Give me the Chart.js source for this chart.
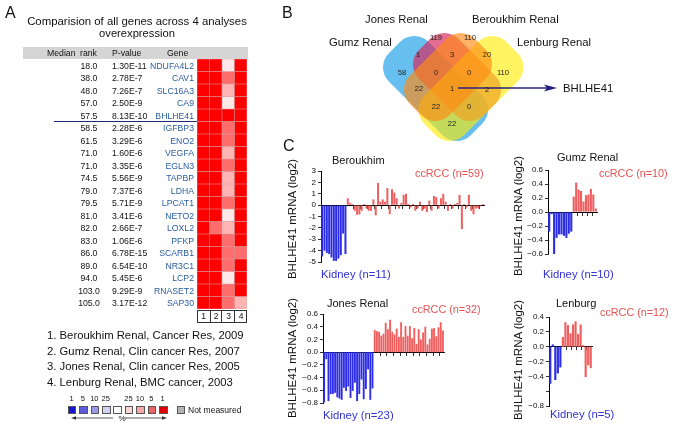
<!DOCTYPE html>
<html>
<head>
<meta charset="utf-8">
<script src="https://cdn.jsdelivr.net/npm/chart.js@4.4.1/dist/chart.umd.min.js"></script>
<style>
  body { margin: 0; width: 677px; height: 425px; overflow: hidden; background: #fff; position: relative;
         font-family: "Liberation Sans", Arial, sans-serif; color: #111; }
  canvas { position: absolute; }
  .t { position: absolute; white-space: nowrap; line-height: 1; }
  .box { position: absolute; }
</style>
</head>
<body>
<canvas id="heat"></canvas>
<canvas id="venn"></canvas>
<canvas id="ber"></canvas>
<canvas id="gumz"></canvas>
<canvas id="jones"></canvas>
<canvas id="len"></canvas>
<svg id="pctArrow" width="677" height="425" style="position:absolute;left:0;top:0;pointer-events:none"></svg>
<script>
// ---- panel A data ----
const genes = ['NDUFA4L2', 'CAV1', 'SLC16A3', 'CA9', 'BHLHE41', 'IGFBP3', 'ENO2', 'VEGFA', 'EGLN3', 'TAPBP',
  'LDHA', 'LPCAT1', 'NETO2', 'LOXL2', 'PFKP', 'SCARB1', 'NR3C1', 'LCP2', 'RNASET2', 'SAP30'];
const medianRanks = ['18.0', '38.0', '48.0', '57.0', '57.5', '58.5', '61.5', '71.0', '71.0', '74.5',
  '79.0', '79.5', '81.0', '82.0', '83.0', '86.0', '89.0', '94.0', '103.0', '105.0'];
const pValues = ['1.30E-11', '2.78E-7', '7.26E-7', '2.50E-9', '8.13E-10', '2.28E-6', '3.29E-6', '1.60E-6', '3.35E-6', '5.56E-9',
  '7.37E-6', '5.71E-9', '3.41E-6', '2.66E-7', '1.06E-6', '6.78E-15', '6.54E-10', '5.45E-6', '9.29E-9', '3.17E-12'];
const studyIds = ['1', '2', '3', '4'];
// top-percent bin of each gene in each analysis (1, 5, 10, 25)
const study1Pct = [1, 1, 1, 1, 1, 1, 1, 1, 1, 1, 1, 1, 1, 1, 1, 1, 1, 1, 1, 1];
const study2Pct = [1, 1, 1, 1, 1, 1, 1, 1, 1, 1, 1, 1, 1, 5, 1, 1, 1, 1, 1, 1];
const study3Pct = [25, 5, 10, 25, 1, 5, 5, 10, 5, 10, 10, 5, 25, 10, 5, 5, 5, 25, 5, 5];
const study4Pct = [1, 1, 1, 1, 1, 1, 1, 1, 1, 1, 1, 1, 1, 1, 1, 5, 1, 1, 1, 10];
const studyNames = ['Beroukhim Renal, Cancer Res, 2009', 'Gumz Renal, Clin cancer Res, 2007',
  'Jones Renal, Clin cancer Res, 2005', 'Lenburg Renal, BMC cancer, 2003'];
const legendBins = ['1', '5', '10', '25', '', '25', '10', '5', '1'];

// ---- panel B data ----
const vennSets = ['Gumz Renal', 'Jones Renal', 'Lenburg Renal', 'Beroukhim Renal'];
const vennCounts = [119, 110, 1, 3, 20, 58, 0, 0, 110, 22, 1, 2, 22, 0, 22];

// ---- panel C data (log2 BHLHE41 mRNA per sample) ----
const berKidney = [-4.5, -4.0, -4.2, -4.3, -4.6, -4.9, -4.9, -4.7, -4.4, -2.5, -4.3];
const berCcrcc = [0.6, 0.2, 0.1, -0.5, -0.85, -0.8, -0.5, 0.1, -0.3, -0.5, -0.5, 0.5, -0.9, 1.95, 0.3, 0.5, 0.3, 1.5, -0.8, 1.4,
  1.1, 0.6, -0.3, 0.2, 0.9, 1.0, 0.1, -0.2, 0.1, -0.5, -0.3, 0.3, -0.5, -0.3, -0.6, 0.4, -0.5, 0.8, 0.7, -0.3,
  0.6, 1.0, 0.3, -0.5, 0.1, -0.3, 0.1, 0.2, 0.9, -2.1, 0.1, -0.2, 0.9, -0.5, -0.8, -0.3, -0.3, -0.1, 0.1];
const gumzKidney = [-0.28, -0.03, -0.6, -0.37, -0.32, -0.32, -0.34, -0.37, -0.31, -0.28];
const gumzCcrcc = [0.22, 0.42, 0.32, 0.3, 0.15, 0.24, 0.25, 0.33, 0.25, 0.05];
const jonesKidney = [-0.79, -0.11, -0.77, -0.66, -0.66, -0.64, -0.71, -0.73, -0.75, -0.56, -0.61, -0.54,
  -0.72, -0.61, -0.48, -0.77, -0.66, -0.43, -0.74, -0.58, -0.27, -0.75, -0.57];
const jonesCcrcc = [0.35, 0.33, 0.32, 0.26, 0.29, 0.46, 0.36, 0.51, 0.32, 0.28, 0.37, 0.24, 0.47, 0.24, 0.41, 0.26,
  0.41, 0.22, 0.38, 0.13, 0.36, 0.2, 0.31, 0.4, 0.12, 0.21, 0.37, 0.38, 0.25, 0.39, 0.47, 0.34];
const lenKidney = [-0.5, 0.03, -0.45, -0.36, -0.28];
const lenCcrcc = [0.13, 0.33, 0.29, 0.18, 0.3, 0.34, 0.17, 0.3, 0.02, -0.41, -0.25, -0.29];

// ---- styling / layout ----
const KIDNEY_BLUE = 'rgb(45,45,230)';
const CCRCC_RED = 'rgb(240,95,95)';
const KIDNEY_TEXT = 'rgb(50,50,215)';
const CCRCC_TEXT = 'rgb(232,82,82)';
const pctColors = { 1: '#ff0000', 5: '#ff6d6d', 10: '#ffb4b4', 25: '#ffe8e8' };
const legendColors = ['#1515d2', '#5c5cdc', '#9a9ae8', '#d2d2f4', '#ffffff', '#f8d4d4', '#f4a8a8', '#ee6464', '#e00000'];
const vennColors = ['rgba(30,160,230,0.68)', 'rgba(215,40,95,0.68)', 'rgba(255,236,0,0.62)', 'rgba(255,140,20,0.66)'];
// centre, half length, tilt of each rounded set outline (same order as vennSets)
const vennCentres = [[435.5, 88.5], [457, 77], [471, 88.5], [448, 77]];
const vennHalfLen = [58, 46, 58, 46];
const vennTilt = [45, 45, -45, -45];
const vennSpots = [[436, 38], [470, 38], [418, 55], [452, 55], [487, 55], [402, 73], [436, 73], [469, 73], [503, 73],
  [419, 89], [452, 89], [487, 90], [436, 107], [469, 107], [452, 124]];

Chart.defaults.font.family = '"Liberation Sans", Arial, sans-serif';
Chart.defaults.color = '#111';

function put(txt, x, y, o = {}) {
  const d = document.createElement('div');
  d.className = 't';
  d.textContent = txt;
  d.style.left = x + 'px';
  d.style.top = y + 'px';
  d.style.fontSize = (o.size || 11) + 'px';
  if (o.color) d.style.color = o.color;
  const tx = o.align === 'right' ? '-100%' : o.align === 'center' ? '-50%' : '0';
  d.style.transform = 'translate(' + tx + ',-50%)' + (o.rot ? ' rotate(-90deg)' : '');
  document.body.appendChild(d);
  return d;
}
function rect(x, y, w, h, css) {
  const d = document.createElement('div');
  d.className = 'box';
  Object.assign(d.style, { left: x + 'px', top: y + 'px', width: w + 'px', height: h + 'px' }, css);
  document.body.appendChild(d);
  return d;
}

// ================= Panel A =================
put('A', 5, 13, { size: 16 });
put('Comparision of all genes across 4 analyses', 137, 22, { size: 11.4, align: 'center' });
put('overexpression', 137, 34, { size: 11.2, align: 'center' });
rect(23, 47, 224.5, 11.5, { background: '#d5d5d5' });
put('Median', 47, 52.8, { size: 8.7 });
put('rank', 80, 52.8, { size: 8.7 });
put('P-value', 112, 52.8, { size: 8.7 });
put('Gene', 167, 52.8, { size: 8.7 });

const HM_TOP = 59.3, HM_LEFT = 197.3, CELL = 12.5;
genes.forEach((g, i) => {
  const yc = HM_TOP + CELL * (i + 0.5);
  put(medianRanks[i], 89, yc, { size: 8.7, align: 'center' });
  put(pValues[i], 112, yc, { size: 8.7 });
  put(g, 194, yc, { size: 8.7, align: 'right', color: '#2a5d9f' });
});
rect(54, 121.3, 143, 0, { borderTop: '1.3px solid #1e2a78' });

const heatCv = document.getElementById('heat');
heatCv.width = 50; heatCv.height = 250;
heatCv.style.left = HM_LEFT + 'px'; heatCv.style.top = HM_TOP + 'px';
const studyPct = [study1Pct, study2Pct, study3Pct, study4Pct];
new Chart(heatCv, {
  type: 'bar',
  data: {
    labels: studyIds,
    datasets: genes.map((g, r) => ({
      label: g,
      data: studyIds.map(() => 1),
      backgroundColor: studyIds.map((_, c) => pctColors[studyPct[c][r]]),
      borderColor: 'rgba(160,0,0,0.35)',
      borderWidth: 0.6,
      borderSkipped: false,
      barPercentage: 1,
      categoryPercentage: 1
    }))
  },
  options: {
    responsive: false, animation: false, devicePixelRatio: 1,
    layout: { padding: 0 },
    plugins: { legend: { display: false }, tooltip: { enabled: false } },
    scales: {
      x: { stacked: true, display: false },
      y: { stacked: true, display: false, min: 0, max: genes.length, reverse: true }
    }
  }
});
studyIds.forEach((s, c) => {
  rect(HM_LEFT + c * CELL, 310, CELL - 1, 10.5, { border: '1px solid #333', borderLeftWidth: c ? '0' : '1px' });
  put(s, HM_LEFT + c * CELL + CELL / 2, 316, { size: 8.5, align: 'center' });
});

studyNames.forEach((s, i) => put((i + 1) + '. ' + s, 47, 336 + i * 15.5, { size: 11.3 }));

legendColors.forEach((c, i) => {
  const x = 67.8 + i * 11.4;
  rect(x, 405.5, 6.6, 6.6, { background: c, border: '0.6px solid #555' });
  if (legendBins[i]) put(legendBins[i], x + 3.7, 399, { size: 7.5, align: 'center' });
});
rect(176.7, 405.5, 6.6, 6.6, { background: '#b3b3b3', border: '0.6px solid #555' });
put('Not measured', 188, 409.5, { size: 8.5 });
put('%', 118.5, 419, { size: 8 });
document.getElementById('pctArrow').innerHTML =
  '<line x1="75" y1="418" x2="113" y2="418" stroke="#333" stroke-width="0.8"/>' +
  '<polygon points="71,418 76,416.2 76,419.8" fill="#333"/>' +
  '<line x1="125" y1="418" x2="163" y2="418" stroke="#333" stroke-width="0.8"/>' +
  '<polygon points="167,418 162,416.2 162,419.8" fill="#333"/>';

// ================= Panel B =================
put('B', 282, 13, { size: 16 });
put('Jones Renal', 365, 20, { size: 11.3 });
put('Beroukhim Renal', 472, 20, { size: 11.3 });
put('Gumz Renal', 329, 43, { size: 11.3 });
put('Lenburg Renal', 517, 43, { size: 11.3 });
put('BHLHE41', 563, 88.5, { size: 11.3 });

const VENN_HALF_WID = 28, VENN_ROUND = 20;
const ARROW_FROM = [458, 88], ARROW_TIP = [557, 88];
const vennPlugin = {
  id: 'venn',
  beforeDatasetsDraw(chart) {
    const { ctx, scales: { x, y } } = chart;
    vennSets.forEach((name, i) => {
      const [cx, cy] = vennCentres[i];
      const px = x.getPixelForValue(cx), py = y.getPixelForValue(cy);
      const L = x.getPixelForValue(cx + vennHalfLen[i]) - px;
      const W = x.getPixelForValue(cx + VENN_HALF_WID) - px;
      ctx.save();
      ctx.translate(px, py);
      ctx.rotate(vennTilt[i] * Math.PI / 180);
      ctx.beginPath();
      ctx.roundRect(-L, -W, 2 * L, 2 * W, VENN_ROUND);
      ctx.fillStyle = vennColors[i];
      ctx.fill();
      ctx.restore();
    });
  },
  afterDatasetsDraw(chart) {
    const { ctx, scales: { x, y } } = chart;
    // arrow to BHLHE41
    const x0 = x.getPixelForValue(ARROW_FROM[0]), y0 = y.getPixelForValue(ARROW_FROM[1]);
    const x1 = x.getPixelForValue(ARROW_TIP[0]);
    ctx.save();
    ctx.strokeStyle = '#23237e';
    ctx.fillStyle = '#23237e';
    ctx.lineWidth = 1.3;
    ctx.beginPath(); ctx.moveTo(x0, y0); ctx.lineTo(x1 - 10, y0); ctx.stroke();
    ctx.beginPath(); ctx.moveTo(x1, y0); ctx.lineTo(x1 - 13, y0 - 3.6); ctx.lineTo(x1 - 10, y0); ctx.lineTo(x1 - 13, y0 + 3.6); ctx.closePath(); ctx.fill();
    // region counts
    ctx.fillStyle = '#222';
    ctx.font = '7.6px "Liberation Sans", Arial, sans-serif';
    ctx.textAlign = 'center';
    ctx.textBaseline = 'middle';
    chart.getDatasetMeta(0).data.forEach((pt, i) => ctx.fillText(String(vennCounts[i]), pt.x, pt.y));
    ctx.restore();
  }
};
const vennCv = document.getElementById('venn');
vennCv.width = 290; vennCv.height = 150;
vennCv.style.left = '330px'; vennCv.style.top = '0px';
new Chart(vennCv, {
  type: 'scatter',
  data: { datasets: [{ data: vennCounts.map((n, i) => ({ x: vennSpots[i][0], y: vennSpots[i][1] })), pointRadius: 0 }] },
  options: {
    responsive: false, animation: false, devicePixelRatio: 1,
    layout: { padding: 0 },
    plugins: { legend: { display: false }, tooltip: { enabled: false } },
    scales: {
      x: { type: 'linear', display: false, min: 330, max: 620 },
      y: { type: 'linear', display: false, min: 0, max: 150, reverse: true }
    }
  },
  plugins: [vennPlugin]
});

// ================= Panel C =================
put('C', 283, 146, { size: 16 });

const minusFmt = v => {
  const s = Math.abs(v).toFixed(1);
  return v < -1e-9 ? '\u2212' + s : s;
};
function bars(id, area, kidney, ccrcc, yMin, yMax, step, every, fmt) {
  const vals = kidney.concat(ccrcc);
  const cv = document.getElementById(id);
  const pad = { left: 0, right: 3, top: 8, bottom: 8 };
  const yw = 24;
  cv.width = yw + (area.right - area.left) + pad.right;
  cv.height = pad.top + (area.bottom - area.top) + pad.bottom;
  cv.style.left = (area.left - yw) + 'px';
  cv.style.top = (area.top - pad.top) + 'px';
  new Chart(cv, {
    type: 'bar',
    data: {
      labels: vals.map((_, i) => i + 1),
      datasets: [{
        data: vals,
        backgroundColor: vals.map((_, i) => i < kidney.length ? KIDNEY_BLUE : CCRCC_RED),
        barPercentage: 0.86,
        categoryPercentage: 1
      }]
    },
    options: {
      responsive: false, animation: false, devicePixelRatio: 1,
      layout: { padding: pad },
      plugins: { legend: { display: false }, tooltip: { enabled: false } },
      scales: {
        x: {
          position: { y: 0 },
          z: 1,
          ticks: { display: false },
          grid: {
            drawOnChartArea: false, tickLength: 3, lineWidth: 0.8,
            color: c => (c.index > kidney.length && (c.index - kidney.length) % every === 0) ? '#000' : 'rgba(0,0,0,0)'
          },
          border: { color: '#000', width: 1 }
        },
        y: {
          min: yMin, max: yMax,
          ticks: { stepSize: step, autoSkip: false, font: { size: 8 }, color: '#111', padding: 2, callback: fmt },
          grid: { drawOnChartArea: false, tickLength: 3, color: '#000', lineWidth: 0.8 },
          border: { color: '#000', width: 1 },
          afterFit: s => { s.width = yw; }
        }
      }
    }
  });
}

bars('ber', { left: 321, right: 484, top: 171, bottom: 262 }, berKidney, berCcrcc, -5, 3, 1, 3, v => String(v));
bars('gumz', { left: 548, right: 597, top: 170, bottom: 254 }, gumzKidney, gumzCcrcc, -0.6, 0.6, 0.2, 2, minusFmt);
bars('jones', { left: 323, right: 444, top: 314, bottom: 403 }, jonesKidney, jonesCcrcc, -0.8, 0.6, 0.2, 3, minusFmt);
bars('len', { left: 549, right: 592, top: 317, bottom: 406 }, lenKidney, lenCcrcc, -0.8, 0.4, 0.2, 2,
  v => Math.abs(v + 0.6) < 1e-6 ? '' : minusFmt(v));

const yTitle = 'BHLHE41 mRNA (log2)';
put(yTitle, 292.5, 219, { size: 11.5, align: 'center', rot: true });
put(yTitle, 519, 216, { size: 11.5, align: 'center', rot: true });
put(yTitle, 292.5, 358, { size: 11.5, align: 'center', rot: true });
put(yTitle, 519, 360, { size: 11.5, align: 'center', rot: true });

put('Beroukhim', 332, 160, { size: 11 });
put('ccRCC (n=59)', 415, 173, { size: 10.8, color: CCRCC_TEXT });
put('Kidney (n=11)', 321, 275, { size: 11.3, color: KIDNEY_TEXT });
put('Gumz Renal', 557, 157, { size: 11 });
put('ccRCC (n=10)', 599, 173, { size: 10.8, color: CCRCC_TEXT });
put('Kidney (n=10)', 543, 275, { size: 11.3, color: KIDNEY_TEXT });
put('Jones Renal', 327, 303, { size: 11 });
put('ccRCC (n=32)', 412, 309, { size: 10.8, color: CCRCC_TEXT });
put('Kidney (n=23)', 323, 416, { size: 11.3, color: KIDNEY_TEXT });
put('Lenburg', 556, 303, { size: 11 });
put('ccRCC (n=12)', 600, 312, { size: 10.8, color: CCRCC_TEXT });
put('Kidney (n=5)', 550, 415, { size: 11.3, color: KIDNEY_TEXT });
</script>
</body>
</html>
